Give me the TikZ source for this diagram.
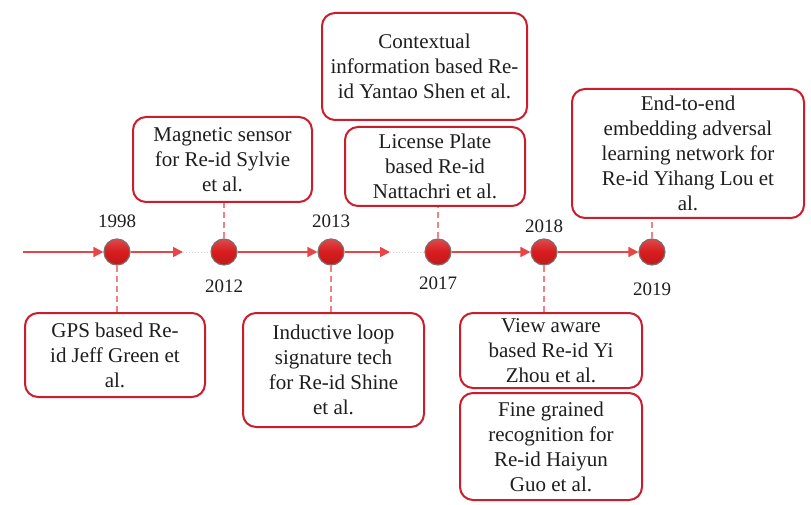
\documentclass[tikz,border=0pt]{standalone}
\usepackage{fontspec}
\setmainfont{Liberation Serif}
\newfontfamily\tnr{Liberation Serif}
\usetikzlibrary{arrows.meta}
\definecolor{boxred}{RGB}{200,30,45}
\definecolor{arrred}{RGB}{232,70,70}
\definecolor{dashred}{RGB}{240,130,130}
\definecolor{ballred}{RGB}{215,28,30}
\definecolor{ballrim}{RGB}{125,110,110}
\definecolor{txt}{RGB}{30,30,30}
\begin{document}
\begin{tikzpicture}[x=1pt,y=-1pt,
  box/.style={draw=boxred, line width=2pt, rounded corners=13pt, fill=white,
    align=center, text=txt, inner sep=2pt,
    font=\tnr\fontsize{21}{25}\selectfont},
  ball/.style={circle, minimum size=26pt, inner sep=0pt, draw=ballrim, line width=1.2pt,
    top color=ballred!80!white, bottom color=ballred!90!black, middle color=ballred},
  arr/.style={draw=arrred, line width=1.6pt, -{Triangle[length=10pt,width=10pt]}},
  gap/.style={draw=gray!35, line width=1pt, dotted},
  conn/.style={draw=dashred, line width=1.3pt, dash pattern=on 6pt off 4pt},
  year/.style={text=txt, font=\tnr\fontsize{19}{22}\selectfont}
]
\useasboundingbox[fill=white] (0,0) rectangle (811,505);

% balls
\node[ball] (c1998) at (117,252) {};
\node[ball] (c2012) at (224,252) {};
\node[ball] (c2013) at (331,252) {};
\node[ball] (c2017) at (438,252) {};
\node[ball] (c2018) at (544,252) {};
\node[ball] (c2019) at (652,252) {};

% years
\node[year] (y1998) at (117,221) {1998};
\node[year] (y2012) at (224,286) {2012};
\node[year] (y2013) at (331,221) {2013};
\node[year] (y2017) at (438,283) {2017};
\node[year] (y2018) at (544,226) {2018};
\node[year] (y2019) at (652,289) {2019};

% axis
\coordinate (s0) at (23,252);
\coordinate (a1) at (183,252);
\coordinate (a2) at (390,252);
\draw[arr] (s0) -- (c1998.west);
\draw[arr] (c1998.east) -- (a1);
\draw[gap] (a1) -- (c2012.west);
\draw[arr] (c2012.east) -- (c2013.west);
\draw[arr] (c2013.east) -- (a2);
\draw[gap] (a2) -- (c2017.west);
\draw[arr] (c2017.east) -- (c2018.west);
\draw[arr] (c2018.east) -- (c2019.west);

% boxes
\node[box, minimum width=180pt, minimum height=84pt] (gps) at (115,355)
  {GPS based Re-\\id Jeff Green et\\al.};
\node[box, minimum width=179pt, minimum height=85pt] (mag) at (222.5,159.5)
  {Magnetic sensor\\for Re-id Sylvie\\et al.};
\node[box, minimum width=181pt, minimum height=114pt] (ind) at (333.5,370)
  {Inductive loop\\signature tech\\for Re-id Shine\\et al.};
\node[box, minimum width=205pt, minimum height=107pt] (ctx) at (424.5,66.5)
  {Contextual\\information based Re-\\id Yantao Shen et al.};
\node[box, minimum width=180pt, minimum height=79pt] (lic) at (435,166.5)
  {License Plate\\based Re-id\\Nattachri et al.};
\node[box, minimum width=232pt, minimum height=129pt] (e2e) at (688,153.5)
  {End-to-end\\embedding adversal\\learning network for\\Re-id Yihang Lou et\\al.};
\node[box, minimum width=182pt, minimum height=75pt] (view) at (551,350.5)
  {View aware\\based Re-id Yi\\Zhou et al.};
\node[box, minimum width=182pt, minimum height=107pt] (fine) at (551,446.5)
  {Fine grained\\recognition for\\Re-id Haiyun\\Guo et al.};

% connectors
\draw[conn] (c1998.south) -- (c1998 |- gps.north);
\draw[conn] (c2012.north) -- (c2012 |- mag.south);
\draw[conn] (c2013.south) -- (c2013 |- ind.north);
\draw[conn] (c2017.north) -- (c2017 |- lic.south);
\draw[conn] (c2018.south) -- (c2018 |- view.north);
\draw[conn] (c2019.north) -- (c2019 |- e2e.south);
\end{tikzpicture}
\end{document}
